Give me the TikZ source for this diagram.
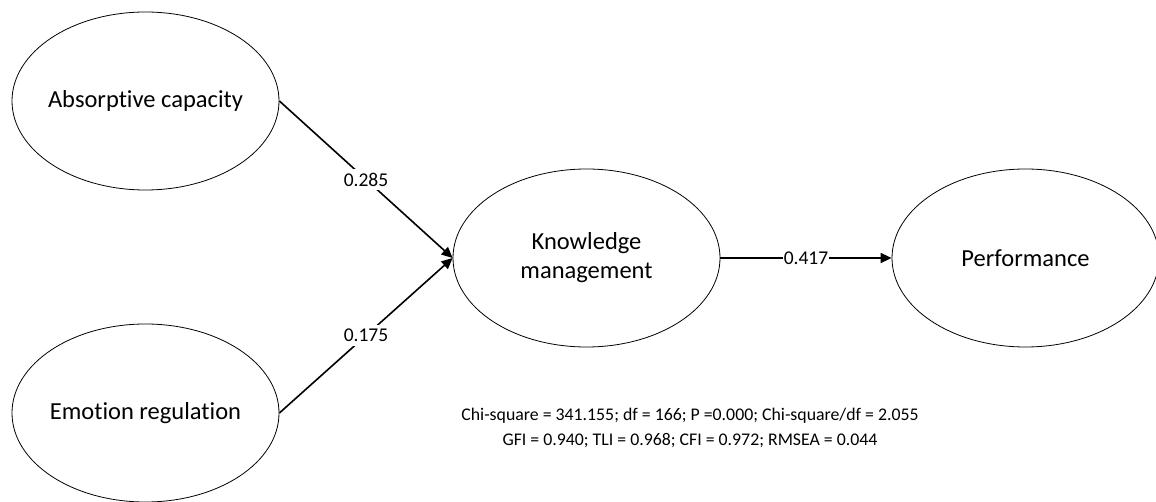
\documentclass[tikz,border=0pt]{standalone}
\usepackage{fontspec}
\setmainfont{Carlito}[Ligatures=NoCommon]
\usetikzlibrary{shapes.geometric,arrows.meta}

\tikzset{
  latent/.style = {ellipse, draw, line width=0.8pt, minimum width=267pt,
    minimum height=178pt, inner xsep=-10pt, inner ysep=0pt, align=center,
    font=\fontsize{24.5}{29}\selectfont},
  path/.style = {line width=1.6pt, -{Triangle[length=11pt,width=10pt]}},
  coef/.style = {fill=white, inner sep=4pt, font=\fontsize{19.5}{22}\selectfont}
}

\begin{document}
\begin{tikzpicture}[x=1pt, y=-1pt]
  \useasboundingbox (0,0) rectangle (1156,502);
  \node[latent] (ac) at (145.5,101) {Absorptive capacity};
  \node[latent] (er) at (145.5,413) {Emotion regulation};
  \node[latent] (km) at (586.5,258) {Knowledge\\management};
  \node[latent] (perf) at (1025.5,258) {Performance};

  \draw[path] (ac.east) -- node[coef] {0.285} (km.west);
  \draw[path] (er.east) -- node[coef] {0.175} (km.west);
  \draw[path] (km.east) -- node[coef, inner sep=0.5pt] {0.417} (perf.west);

  % fit indices
  \node[align=center, font=\fontsize{17.8}{25}\selectfont] (fit) at (690,428)
    {Chi-square = 341.155; df = 166; P =0.000; Chi-square/df = 2.055\\
     GFI = 0.940; TLI = 0.968; CFI = 0.972; RMSEA = 0.044};
\end{tikzpicture}
\end{document}
